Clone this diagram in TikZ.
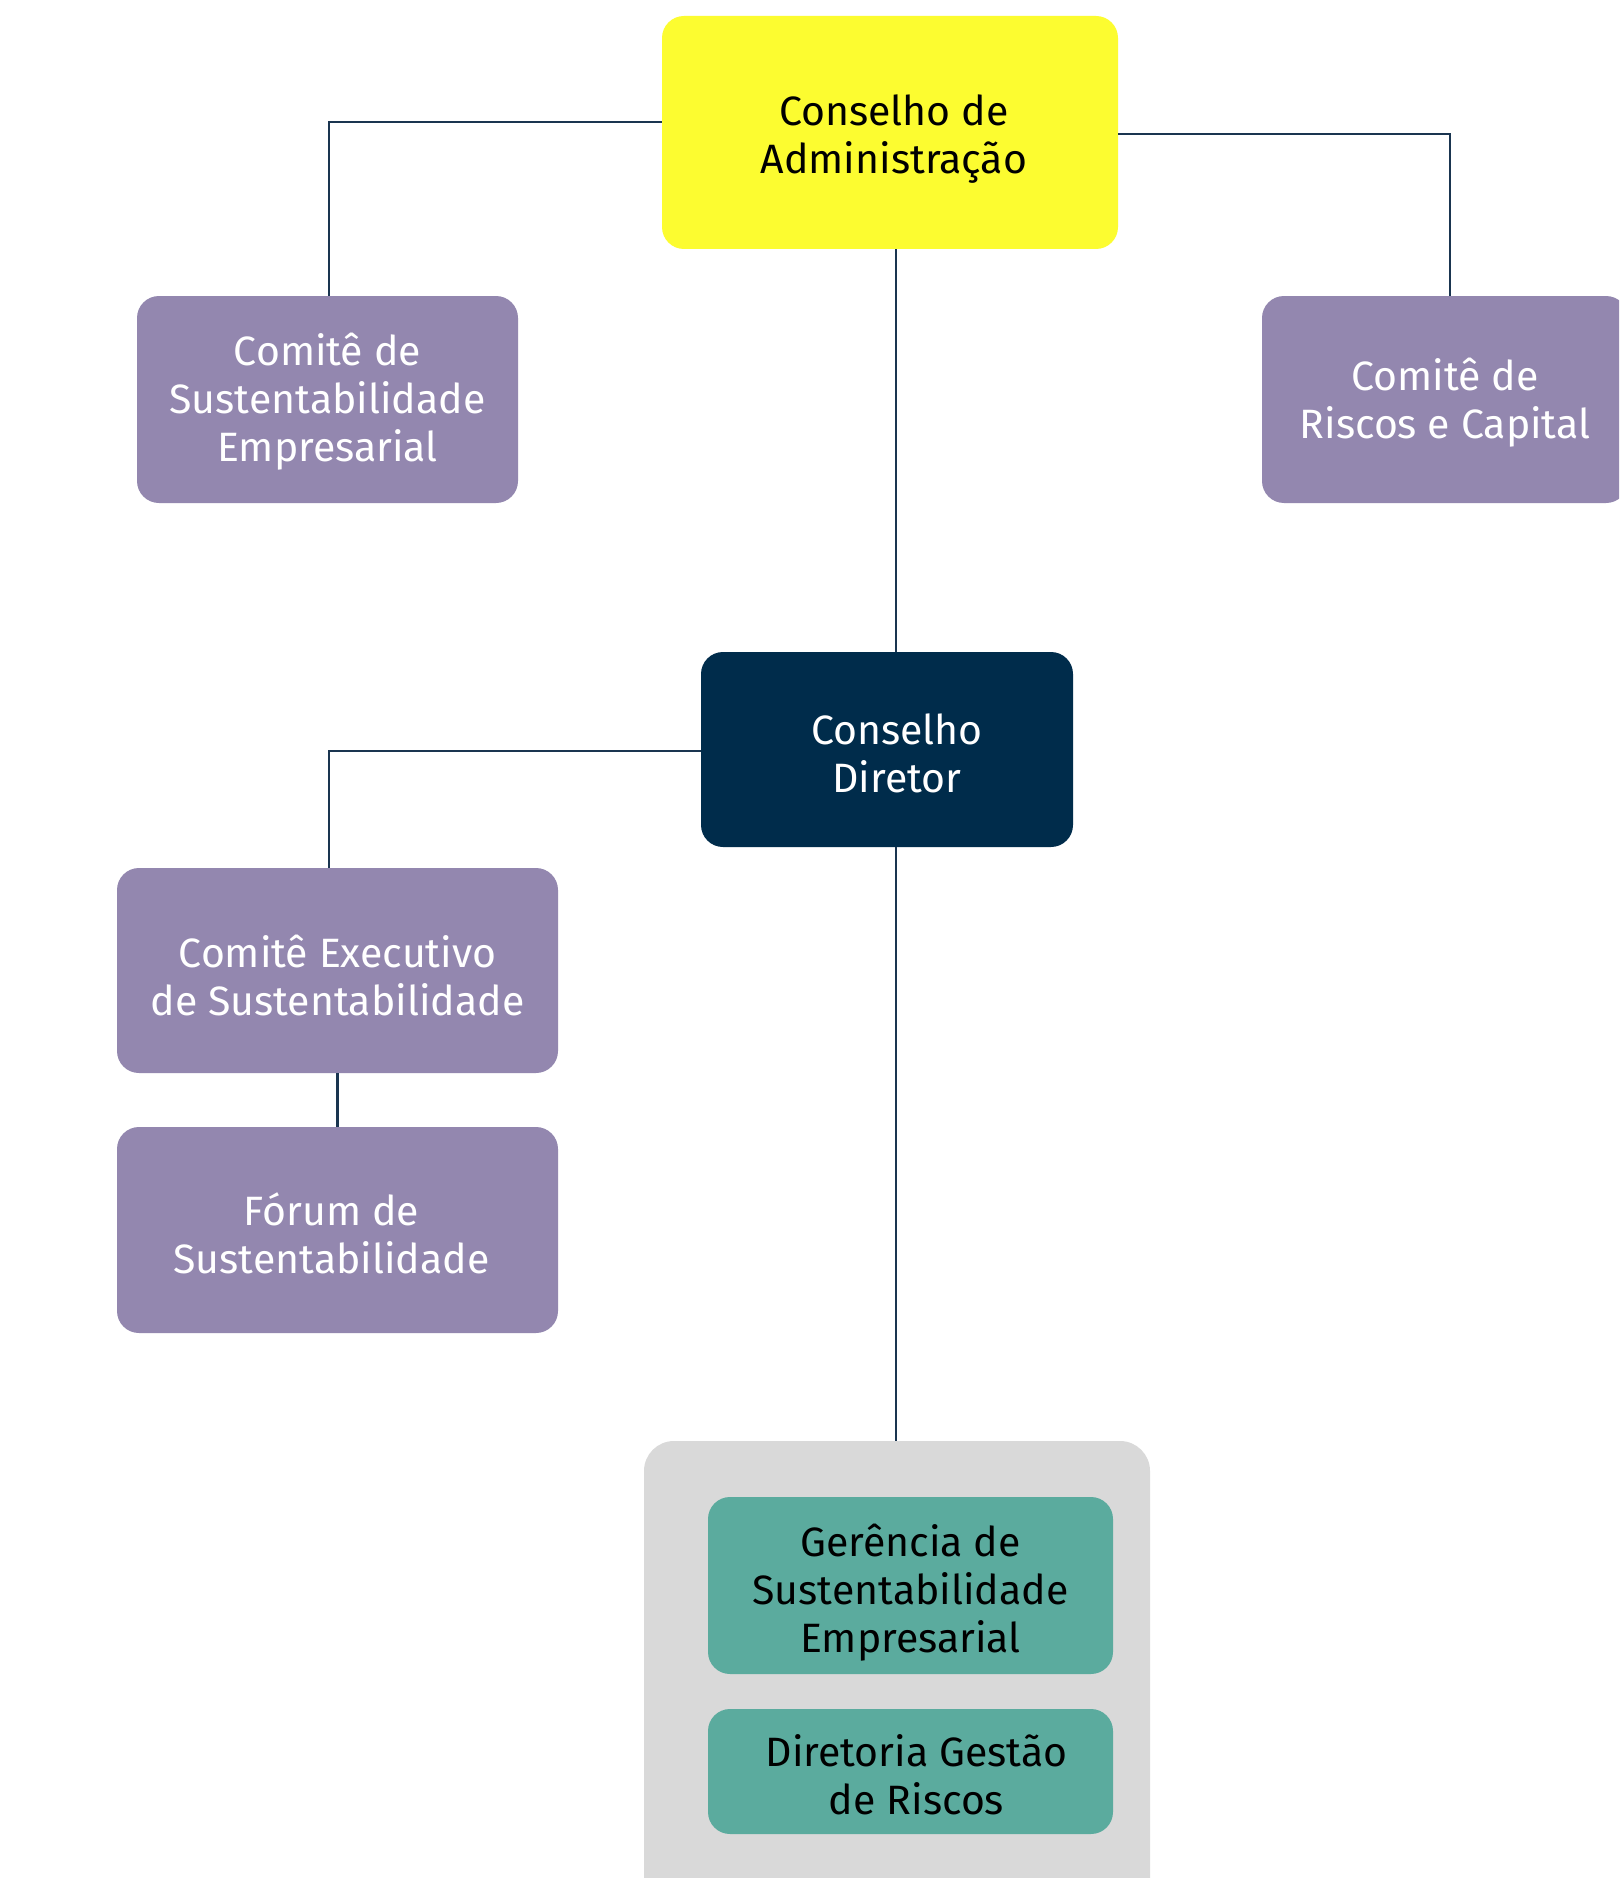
\documentclass[tikz,border=0pt]{standalone}
\usepackage{fontspec}
\setmainfont{Fira Sans}
\definecolor{cyellow}{HTML}{FCFC30}
\definecolor{cpurple}{HTML}{9387AF}
\definecolor{cnavy}{HTML}{002C4B}
\definecolor{cteal}{HTML}{5BAB9E}
\definecolor{cgrey}{HTML}{D9D9D9}
\definecolor{cline}{HTML}{1A3550}
\begin{document}
\begin{tikzpicture}[x=1pt,y=-1pt,
  box/.style={rectangle,rounded corners=22pt,inner sep=0pt},
  txt/.style={inner sep=0pt,align=center,font=\fontsize{41}{48}\selectfont},
  purplebox/.style={box,fill=cpurple},
  tealbox/.style={box,fill=cteal},
  conn/.style={draw=cline,line width=2.6pt}]
\useasboundingbox (0,0) rectangle (1619,1878);
\clip (0,0) rectangle (1619,1878);
\fill[white] (0,0) rectangle (1619,1878);
% shapes
\node[box,fill=cyellow,minimum width=456pt,minimum height=233pt] (ca) at (890,132.5) {};
\node[purplebox,minimum width=381pt,minimum height=207pt] (cse) at (327.5,399.5) {};
\node[purplebox,minimum width=366pt,minimum height=207pt] (crc) at (1445,399.5) {};
\node[box,fill=cnavy,minimum width=372pt,minimum height=195pt] (cd) at (887,749.5) {};
\node[purplebox,minimum width=441pt,minimum height=205pt] (exec) at (337.5,970.5) {};
\node[purplebox,minimum width=441pt,minimum height=206pt] (forum) at (337.5,1230) {};
\node[rectangle,rounded corners=30pt,fill=cgrey,minimum width=506pt,minimum height=480pt,inner sep=0pt] (grey) at (897,1681) {};
\node[tealbox,minimum width=405pt,minimum height=177pt] (ger) at (910.5,1585.5) {};
\node[tealbox,minimum width=405pt,minimum height=125pt] (dir) at (910.5,1771.5) {};
% texts
\node[txt,text=black] (ca-t) at ([xshift=4pt,yshift=-7pt]ca.center) {Conselho de\\Administração};
\node[txt,text=white] (cse-t) at ([yshift=-2.5pt]cse.center) {Comitê de\\Sustentabilidade\\Empresarial};
\node[txt,text=white] (crc-t) at ([yshift=-3.5pt]crc.center) {Comitê de\\Riscos e Capital};
\node[txt,text=white] (cd-t) at ([xshift=10pt,yshift=-3.5pt]cd.center) {Conselho\\Diretor};
\node[txt,text=white] (exec-t) at ([yshift=-5pt]exec.center) {Comitê Executivo\\de Sustentabilidade};
\node[txt,text=white] (forum-t) at ([xshift=-6pt,yshift=-3.5pt]forum.center) {Fórum de\\Sustentabilidade};
\node[txt,text=black] (ger-t) at ([yshift=-7pt]ger.center) {Gerência de\\Sustentabilidade\\Empresarial};
\node[txt,text=black] (dir-t) at ([xshift=6pt,yshift=-3.5pt]dir.center) {Diretoria Gestão\\de Riscos};
% connectors
\coordinate (lx) at (896,0);
\draw[conn] ([yshift=10.5pt]ca.west) -| ([xshift=1.5pt]cse.north);
\draw[conn] ([yshift=-1.5pt]ca.east) -| ([xshift=5pt]crc.north);
\draw[conn] (ca.south -| lx) -- (cd.north -| lx);
\draw[conn] ([yshift=-1.5pt]cd.west) -| ([xshift=-8.5pt]exec.north);
\draw[conn] (exec.south) -- (forum.north);
\draw[conn] (cd.south -| lx) -- (grey.north -| lx);
\end{tikzpicture}
\end{document}
